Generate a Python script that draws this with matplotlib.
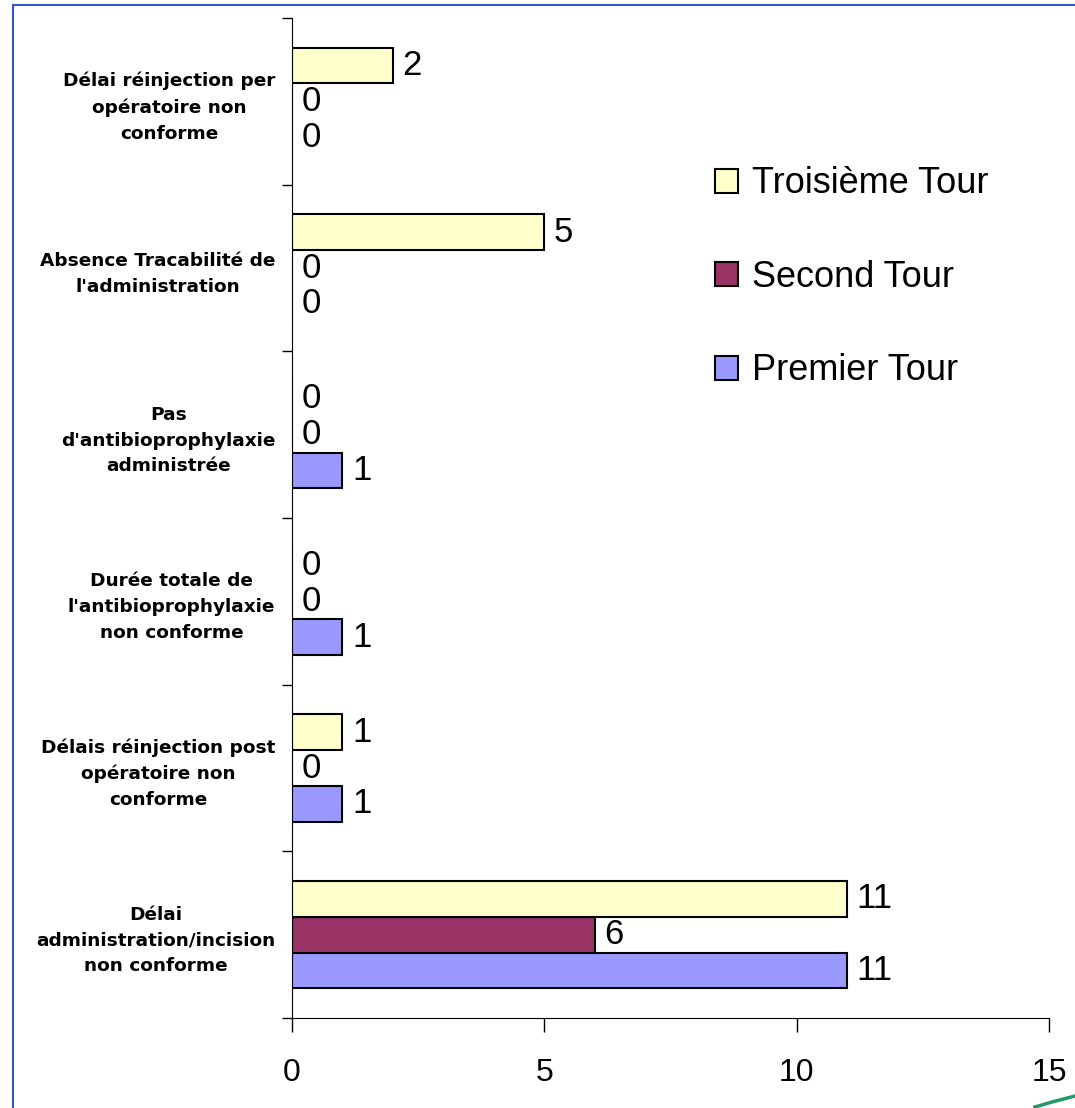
import numpy as np
import matplotlib.pyplot as plt
from matplotlib.patches import Rectangle

# categories, listed from bottom to top
categories = ["Délai\nadministration/incision\nnon conforme",
              "Délais réinjection post\nopératoire non\nconforme",
              "Durée totale de\nl'antibioprophylaxie\nnon conforme",
              "Pas\nd'antibioprophylaxie\nadministrée",
              "Absence Tracabilité de\nl'administration",
              "Délai réinjection per\nopératoire non\nconforme"]
premier = [11, 1, 1, 1, 0, 0]
second = [6, 0, 0, 0, 0, 0]
troisieme = [11, 1, 0, 0, 5, 2]
series_names = ["Premier Tour", "Second Tour", "Troisième Tour"]
series_colors = ["#9999FF", "#993366", "#FFFFCC"]
x_ticks = [0, 5, 10, 15]

fig = plt.figure(figsize=(10.75, 11.08), dpi=100)
ax = fig.add_axes([292/1075, 1 - 1018/1108, 757/1075, 1000/1108])

y = np.arange(len(categories))
h = 0.215
for i, (vals, name, col) in enumerate(zip([premier, second, troisieme], series_names, series_colors)):
    bars = ax.barh(y + (i - 1) * h, vals, height=h, color=col, edgecolor="black",
                   linewidth=1.5, label=name)
    ax.bar_label(bars, padding=7, fontsize=25, family="Liberation Sans")

ax.set_ylim(-0.5, len(categories) - 0.5)
ax.set_xlim(0, 15)
ax.set_xticks(x_ticks)
ax.set_xticklabels([str(t) for t in x_ticks], fontsize=23, family="Liberation Sans")
ax.tick_params(axis="x", length=10, width=1, pad=19)
ax.set_yticks(y)
ax.set_yticklabels(categories, fontsize=13.3, fontweight="bold", family="DejaVu Sans",
                   multialignment="center", linespacing=1.55)
ax.tick_params(axis="y", length=0, pad=12)
ax.set_yticks(np.arange(-0.5, len(categories), 1), minor=True)
ax.tick_params(axis="y", which="minor", length=7, width=1)
for s in ["top", "right"]:
    ax.spines[s].set_visible(False)

handles, labels = ax.get_legend_handles_labels()
fig.legend(handles[::-1], labels[::-1], loc="upper left", bbox_to_anchor=(682/1075, 1 - 134/1108),
           frameon=False, prop={"family": "Liberation Sans", "size": 26},
           handlelength=0.65, handleheight=0.65, labelspacing=1.62, handletextpad=0.4)

# blue frame around the chart
fig.patches.append(Rectangle((13/1075, -0.1), 1.2, 1 - 5/1108 + 0.1, transform=fig.transFigure,
                             fill=False, edgecolor="#3355CC", linewidth=1.5))
# corner of the green logo peeking in at the bottom right
fig.add_artist(plt.Line2D([1035/1075, 1052/1075, 1075/1075], [1/1108, 6/1108, 12/1108],
                          color="#229966", linewidth=2.5))

fig.savefig("out.png", dpi=100)
